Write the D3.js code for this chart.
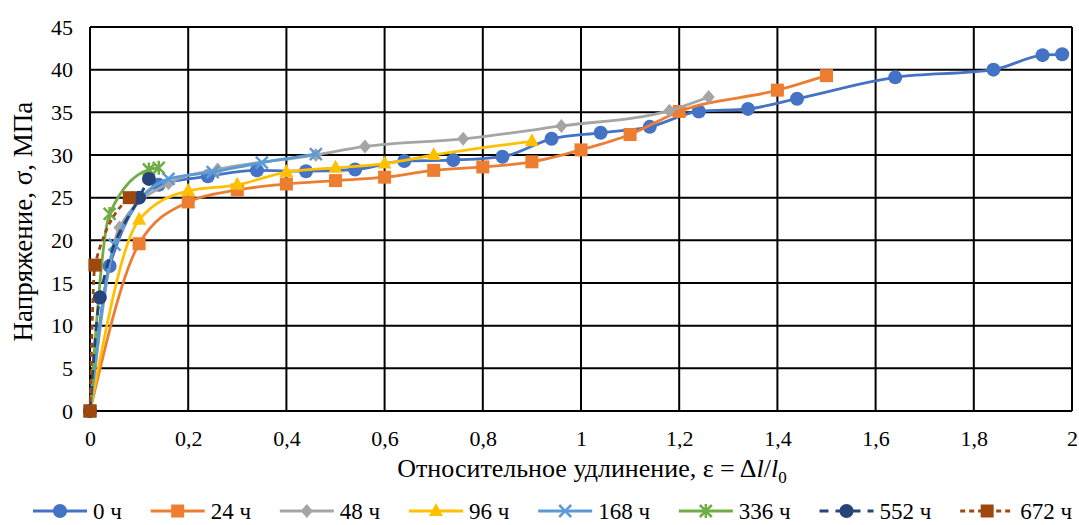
<!DOCTYPE html>
<html>
<head>
<meta charset="utf-8">
<script src="https://cdn.jsdelivr.net/npm/d3@7"></script>
<style>
  body { margin: 0; background: #fff; }
</style>
</head>
<body>
<script>
// размеры
var W = 1079, H = 525;
var margin = {top: 27, bottom: 114, left: 90, right: 7};
var FONT = "Liberation Serif, DejaVu Serif, Noto Serif, Times New Roman, serif";

// данные (ε, σ)
var names = ["0 ч", "24 ч", "48 ч", "96 ч", "168 ч", "336 ч", "552 ч", "672 ч"];
var colors = ["#4472C4", "#ED7D31", "#A5A5A5", "#FFC000", "#5B9BD5", "#70AD47", "#264478", "#9E480E"];
var markers = ["circle", "square", "diamond", "triangle", "cross", "star", "circle", "square"];
var dashes = [null, null, null, null, null, null, "9,7", "5,4"];

var s0 = [[0,0],[0.04,17],[0.14,26.5],[0.24,27.5],[0.34,28.2],[0.44,28.1],[0.54,28.3],[0.64,29.3],[0.74,29.4],[0.84,29.8],[0.94,31.9],[1.04,32.6],[1.14,33.3],[1.24,35.1],[1.34,35.4],[1.44,36.6],[1.64,39.1],[1.84,40.0],[1.94,41.7],[1.98,41.8]];
var s24 = [[0,0],[0.1,19.6],[0.2,24.5],[0.3,25.9],[0.4,26.6],[0.5,27.0],[0.6,27.4],[0.7,28.2],[0.8,28.6],[0.9,29.2],[1.0,30.6],[1.1,32.4],[1.2,35.1],[1.4,37.6],[1.5,39.3]];
var s48 = [[0,0],[0.06,21.5],[0.16,26.7],[0.26,28.3],[0.46,30.0],[0.56,31.0],[0.76,31.9],[0.96,33.4],[1.18,35.2],[1.26,36.8]];
var s96 = [[0,0],[0.1,22.4],[0.2,25.8],[0.3,26.5],[0.4,28.0],[0.5,28.5],[0.6,29.0],[0.7,30.0],[0.9,31.6]];
var s168 = [[0,0],[0.05,19.5],[0.16,27.2],[0.25,28.0],[0.35,29.1],[0.46,30.1]];
var s336 = [[0,0],[0.04,23.1],[0.12,28.3],[0.14,28.5]];
var s552 = [[0,0],[0.02,13.3],[0.1,25.0],[0.12,27.2]];
var s672 = [[0,0],[0.01,17.1],[0.08,25.0]];
var series = [s0, s24, s48, s96, s168, s336, s552, s672];

var xTicks = [0, 0.2, 0.4, 0.6, 0.8, 1, 1.2, 1.4, 1.6, 1.8, 2];
var yTicks = [0, 5, 10, 15, 20, 25, 30, 35, 40, 45];

var svg = d3.select("body").append("svg").attr("width", W).attr("height", H)
  .attr("font-family", FONT);

var x = d3.scaleLinear().domain([0, 2]).range([margin.left, W - margin.right]);
var y = d3.scaleLinear().domain([0, 45]).range([H - margin.bottom, margin.top]);

//сетка
svg.append("g").selectAll("line").data(xTicks).join("line")
  .attr("x1", d => x(d)).attr("x2", d => x(d))
  .attr("y1", y(0)).attr("y2", y(45))
  .attr("stroke", "#000").attr("stroke-width", 2);
svg.append("g").selectAll("line").data(yTicks).join("line")
  .attr("x1", x(0)).attr("x2", x(2))
  .attr("y1", d => y(d)).attr("y2", d => y(d))
  .attr("stroke", "#000").attr("stroke-width", 2);

//подписи осей
var fmt = d => String(d).replace(".", ",");
svg.append("g").attr("transform", "translate(0," + y(0) + ")")
  .call(d3.axisBottom(x).tickValues(xTicks).tickFormat(fmt).tickSize(0).tickPadding(19))
  .call(g => g.select(".domain").remove())
  .attr("font-family", FONT).attr("font-size", 22)
  .selectAll("text").attr("fill", "#000");
svg.append("g").attr("transform", "translate(" + x(0) + ",0)")
  .call(d3.axisLeft(y).tickValues(yTicks).tickSize(0).tickPadding(17))
  .call(g => g.select(".domain").remove())
  .attr("font-family", FONT).attr("font-size", 22)
  .selectAll("text").attr("fill", "#000");

var xt = svg.append("text").attr("x", 592).attr("y", 477).attr("text-anchor", "middle")
  .attr("font-size", 26);
xt.append("tspan").text("Относительное удлинение,  ε = Δ");
xt.append("tspan").attr("font-style", "italic").text("l");
xt.append("tspan").text("/");
xt.append("tspan").attr("font-style", "italic").text("l");
xt.append("tspan").attr("dy", 6).attr("font-size", 17).text("0");

svg.append("text").attr("transform", "translate(32," + y(22.2) + ") rotate(-90)")
  .attr("text-anchor", "middle").attr("font-size", 27)
  .text("Напряжение, σ, МПа");

//маркеры
function drawMarker(g, type, color, cx, cy) {
  if (type === "circle") {
    g.append("circle").attr("cx", cx).attr("cy", cy).attr("r", 7).attr("fill", color);
  } else if (type === "square") {
    g.append("rect").attr("x", cx - 6.5).attr("y", cy - 6.5).attr("width", 13).attr("height", 13).attr("fill", color);
  } else if (type === "diamond") {
    g.append("path").attr("d", "M" + cx + "," + (cy - 7) + "L" + (cx + 6) + "," + cy + "L" + cx + "," + (cy + 7) + "L" + (cx - 6) + "," + cy + "Z").attr("fill", color);
  } else if (type === "triangle") {
    g.append("path").attr("d", "M" + cx + "," + (cy - 8) + "L" + (cx + 7) + "," + (cy + 5) + "L" + (cx - 7) + "," + (cy + 5) + "Z").attr("fill", color);
  } else if (type === "cross") {
    g.append("path").attr("d", "M" + (cx - 6) + "," + (cy - 6) + "L" + (cx + 6) + "," + (cy + 6) + "M" + (cx + 6) + "," + (cy - 6) + "L" + (cx - 6) + "," + (cy + 6))
      .attr("stroke", color).attr("stroke-width", 2.5);
  } else if (type === "star") {
    g.append("path").attr("d", "M" + (cx - 6) + "," + (cy - 6) + "L" + (cx + 6) + "," + (cy + 6) + "M" + (cx + 6) + "," + (cy - 6) + "L" + (cx - 6) + "," + (cy + 6) + "M" + cx + "," + (cy - 7) + "L" + cx + "," + (cy + 7))
      .attr("stroke", color).attr("stroke-width", 2.5);
  }
}

var line = d3.line().x(d => x(d[0])).y(d => y(d[1])).curve(d3.curveMonotoneX);

series.forEach(function(s, i) {
  var g = svg.append("g");
  g.append("path").attr("d", line(s)).attr("fill", "none")
    .attr("stroke", colors[i]).attr("stroke-width", 2.8)
    .attr("stroke-dasharray", dashes[i]);
  s.forEach(d => drawMarker(g, markers[i], colors[i], x(d[0]), y(d[1])));
});

//легенда
var legY = 511;
var leg = svg.append("g");
var items = [];
names.forEach(function(n, i) {
  var it = leg.append("g");
  it.append("line").attr("x1", 0).attr("x2", 54).attr("y1", 0).attr("y2", 0)
    .attr("stroke", colors[i]).attr("stroke-width", 2.8).attr("stroke-dasharray", dashes[i]);
  drawMarker(it, markers[i], colors[i], 27, 0);
  var t = it.append("text").attr("x", 60).attr("y", 8).attr("font-size", 23).text(n);
  items.push({g: it, w: 60 + t.node().getComputedTextLength()});
});
var total = d3.sum(items, d => d.w);
var gap = (1072 - 33 - total) / (items.length - 1);
var cx = 33;
items.forEach(function(d) {
  d.g.attr("transform", "translate(" + cx + "," + legY + ")");
  cx += d.w + gap;
});
</script>
</body>
</html>
